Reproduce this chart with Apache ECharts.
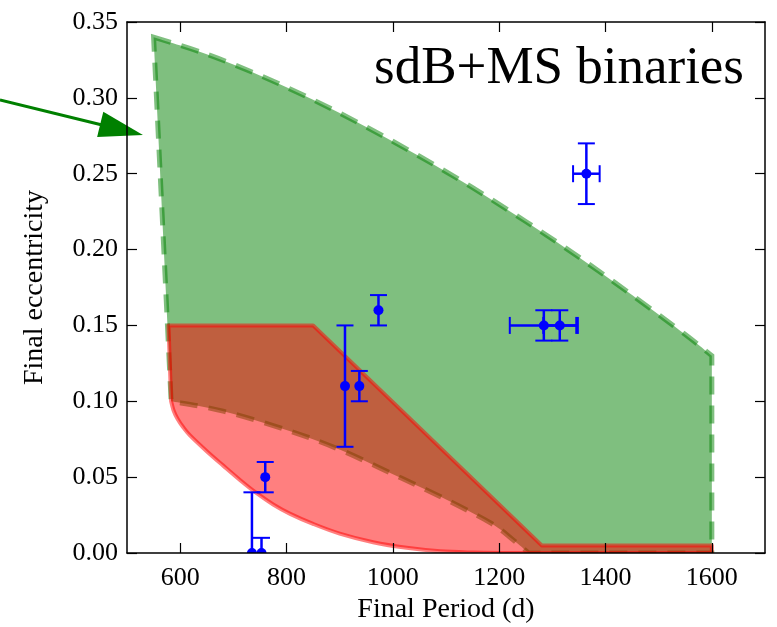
<!DOCTYPE html>
<html><head><meta charset="utf-8">
<script src="https://cdn.jsdelivr.net/npm/echarts@6/dist/echarts.min.js"></script>
<style>html,body{margin:0;padding:0;background:#fff;} #c{width:777px;height:627px;}</style>
</head><body><div id="c"></div>
<script>
// Tick labels
const xTicks = [600, 800, 1000, 1200, 1400, 1600];
const yTicks = [0, 0.05, 0.10, 0.15, 0.20, 0.25, 0.30, 0.35];

// Green region boundaries
const greenTopX = [550, 650, 750, 850, 950, 1050, 1150, 1250, 1350, 1450, 1550, 1600];
const greenTopY = [0.340, 0.3288, 0.3148, 0.2987, 0.2808, 0.2615, 0.2408, 0.2185, 0.1950, 0.1700, 0.1440, 0.130];
const greenRightX = [1600, 1600];
const greenRightY = [0.130, 0.0];
const greenLowX = [1255, 1225, 1183, 1089, 995, 901, 807, 681, 583];
const greenLowY = [0.0, 0.0090, 0.0200, 0.0372, 0.0528, 0.068, 0.0803, 0.0935, 0.100];

// Red region boundaries
const redUpperX = [578, 850, 1280, 1600, 1600];
const redUpperY = [0.150, 0.150, 0.005, 0.005, 0.0];
const redLowX = [1214, 1151, 1089, 1026, 963, 900, 850, 807, 775, 744, 713, 681, 650, 618, 605, 595, 588, 583];
const redLowY = [0.0, 0.0003, 0.0011, 0.0034, 0.0071, 0.0128, 0.0192, 0.0258, 0.0320, 0.0394, 0.0480, 0.0576, 0.0671, 0.0777, 0.0832, 0.0885, 0.0936, 0.100];

// Observed systems
const ptX = [1364, 1284, 1314, 973, 910, 937, 760, 735, 753];
const ptY = [0.25, 0.15, 0.15, 0.16, 0.11, 0.11, 0.05, 0.0, 0.0];
const ptXErr = [25, 64, 31, 0, 0, 0, 0, 0, 0];
const ptYErr = [0.02, 0.01, 0.01, 0.01, 0.04, 0.01, 0.01, 0.04, 0.01];

// Arrow annotation (data coordinates: start, tip)
const arrowX = [261, 530];
const arrowY = [0.2986, 0.2756];

const serif = 'Liberation Serif';

function toPx(xs, ys, api) { return xs.map((x, i) => api.coord([x, ys[i]])); }
function lineTo(p) { return p.map(q => ` L ${q[0]} ${q[1]}`).join(''); }
// smooth curve through pixel points (rendering only), starting at p[0]
function curveTo(p) {
  let s = ` L ${p[0][0]} ${p[0][1]}`;
  for (let i = 0; i < p.length - 1; i++) {
    const p0 = p[i - 1] || p[i], p1 = p[i], p2 = p[i + 1], p3 = p[i + 2] || p[i + 1];
    const c1 = [p1[0] + (p2[0] - p0[0]) / 6, p1[1] + (p2[1] - p0[1]) / 6];
    const c2 = [p2[0] - (p3[0] - p1[0]) / 6, p2[1] - (p3[1] - p1[1]) / 6];
    s += ` C ${c1[0]} ${c1[1]} ${c2[0]} ${c2[1]} ${p2[0]} ${p2[1]}`;
  }
  return s;
}

const chart = echarts.init(document.getElementById('c'), null, {renderer: 'canvas'});

const axisCommon = {
  type: 'value',
  axisLine: {show: true, onZero: false, lineStyle: {color: '#000', width: 1.5}},
  splitLine: {show: false},
  z: 10
};
const tickStyle = {color: '#000', width: 1.2};

chart.setOption({
  animation: false,
  backgroundColor: '#fff',
  title: {
    text: 'sdB+MS binaries', right: 33, top: 43, padding: 0,
    textStyle: {fontFamily: serif, fontSize: 53, fontWeight: 'normal', color: '#000'}
  },
  grid: {left: 127, right: 12, top: 22, bottom: 74, containLabel: false, outerBoundsMode: 'none'},
  xAxis: [
    Object.assign({}, axisCommon, {
      position: 'bottom', min: 500, max: 1700,
      name: 'Final Period (d)', nameLocation: 'middle', nameGap: 43,
      nameTextStyle: {fontFamily: serif, fontSize: 28, color: '#000'},
      axisTick: {show: true, inside: true, length: 10, customValues: xTicks, lineStyle: tickStyle},
      axisLabel: {show: true, customValues: xTicks, margin: 12, fontFamily: serif, fontSize: 26, color: '#000',
        formatter: v => String(v)}
    }),
    Object.assign({}, axisCommon, {
      position: 'top', min: 500, max: 1700,
      axisTick: {show: true, inside: true, length: 10, customValues: xTicks, lineStyle: tickStyle},
      axisLabel: {show: false}
    })
  ],
  yAxis: [
    Object.assign({}, axisCommon, {
      position: 'left', min: 0, max: 0.35,
      name: 'Final eccentricity', nameLocation: 'middle', nameGap: 78, nameRotate: 90,
      nameTextStyle: {fontFamily: serif, fontSize: 28, color: '#000'},
      axisTick: {show: true, inside: true, length: 10, customValues: yTicks, lineStyle: tickStyle},
      axisLabel: {show: true, customValues: yTicks, margin: 9, fontFamily: serif, fontSize: 26, color: '#000',
        formatter: v => Number(v).toFixed(2)}
    }),
    Object.assign({}, axisCommon, {
      position: 'right', min: 0, max: 0.35,
      axisTick: {show: true, inside: true, length: 10, customValues: yTicks, lineStyle: tickStyle},
      axisLabel: {show: false}
    })
  ],
  series: [
    {
      type: 'custom', name: 'green', xAxisIndex: 0, yAxisIndex: 0, clip: true, z: 2,
      data: [[greenTopX[0], greenTopY[0]]],
      renderItem: (params, api) => {
        const top = toPx(greenTopX, greenTopY, api);
        const right = toPx(greenRightX, greenRightY, api);
        const low = toPx(greenLowX, greenLowY, api);
        const d = `M ${top[0][0]} ${top[0][1]}` + curveTo(top) + lineTo(right) + curveTo(low) + ' Z';
        return {type: 'group', children: [
          {type: 'path', shape: {pathData: d}, style: {fill: 'rgba(0,128,0,0.5)', stroke: null}},
          {type: 'path', shape: {pathData: d}, style: {fill: null, stroke: 'rgba(0,128,0,0.5)', lineWidth: 5, lineDash: [18, 11]}}
        ]};
      }
    },
    {
      type: 'custom', name: 'red', xAxisIndex: 0, yAxisIndex: 0, clip: true, z: 3,
      data: [[redUpperX[0], redUpperY[0]]],
      renderItem: (params, api) => {
        const up = toPx(redUpperX, redUpperY, api);
        const low = toPx(redLowX, redLowY, api);
        const d = `M ${up[0][0]} ${up[0][1]}` + lineTo(up.slice(1)) + curveTo(low) + ' Z';
        return {type: 'path', shape: {pathData: d},
          style: {fill: 'rgba(255,0,0,0.5)', stroke: 'rgba(255,0,0,0.5)', lineWidth: 4, lineJoin: 'round'}};
      }
    },
    {
      type: 'custom', name: 'obs', xAxisIndex: 0, yAxisIndex: 0, clip: true, z: 5,
      data: ptX.map((x, i) => [x, ptY[i], ptXErr[i], ptYErr[i]]),
      renderItem: (params, api) => {
        const x = api.value(0), y = api.value(1), xe = api.value(2), ye = api.value(3);
        const c = api.coord([x, y]);
        const blue = '#0000ff';
        const cap = 8.5;
        const kids = [];
        const ln = (x1, y1, x2, y2, w) => ({type: 'line', shape: {x1, y1, x2, y2}, style: {stroke: blue, lineWidth: w}});
        if (ye > 0) {
          const t = api.coord([x, y + ye]), b = api.coord([x, y - ye]);
          kids.push(ln(c[0], t[1], c[0], b[1], 2.5));
          kids.push(ln(c[0] - cap, t[1], c[0] + cap, t[1], 2));
          kids.push(ln(c[0] - cap, b[1], c[0] + cap, b[1], 2));
        }
        if (xe > 0) {
          const l = api.coord([x - xe, y]), r = api.coord([x + xe, y]);
          kids.push(ln(l[0], c[1], r[0], c[1], 2.5));
          kids.push(ln(l[0], c[1] - cap, l[0], c[1] + cap, 2));
          kids.push(ln(r[0], c[1] - cap, r[0], c[1] + cap, 2));
        }
        kids.push({type: 'circle', shape: {cx: c[0], cy: c[1], r: 5}, style: {fill: blue, stroke: null}});
        return {type: 'group', children: kids};
      }
    },
    {
      type: 'custom', name: 'arrow', xAxisIndex: 0, yAxisIndex: 0, clip: false, z: 6,
      data: [[arrowX[0], arrowY[0], arrowX[1], arrowY[1]]],
      renderItem: (params, api) => {
        const p0 = api.coord([api.value(0), api.value(1)]);
        const p1 = api.coord([api.value(2), api.value(3)]);
        const dx = p1[0] - p0[0], dy = p1[1] - p0[1];
        const L = Math.sqrt(dx * dx + dy * dy);
        const ux = dx / L, uy = dy / L, nx = -uy, ny = ux;
        const hl = 44, hw = 13;
        const bx = p1[0] - hl * ux, by = p1[1] - hl * uy;
        return {type: 'group', children: [
          {type: 'line', shape: {x1: p0[0], y1: p0[1], x2: bx + 2 * ux, y2: by + 2 * uy}, style: {stroke: '#008000', lineWidth: 3}},
          {type: 'polygon', shape: {points: [[p1[0], p1[1]], [bx + hw * nx, by + hw * ny], [bx - hw * nx, by - hw * ny]]}, style: {fill: '#008000', stroke: null}}
        ]};
      }
    }
  ]
});
</script>
</body></html>
